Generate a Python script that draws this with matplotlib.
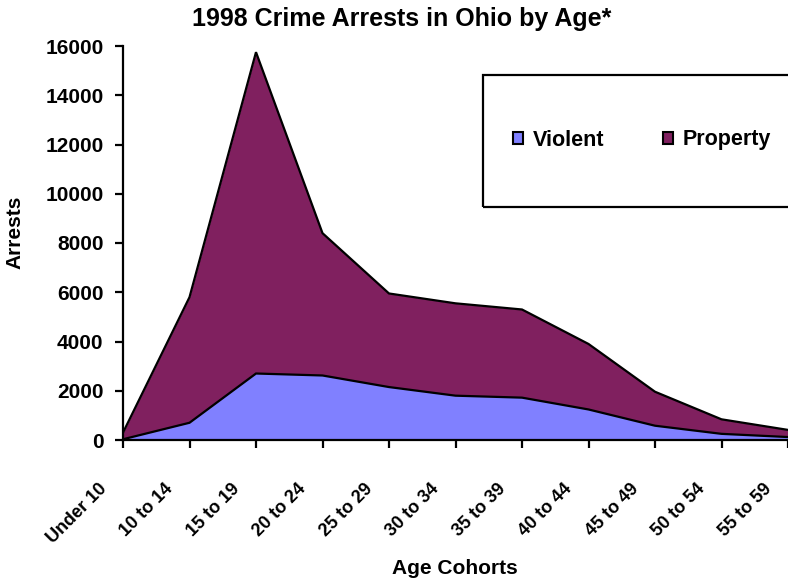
import matplotlib
matplotlib.use("Agg")
import matplotlib.pyplot as plt
import matplotlib.transforms as mtransforms
from matplotlib.patches import Rectangle, Patch
import numpy as np

plt.rcParams['font.family'] = ['Liberation Sans', 'DejaVu Sans']
plt.rcParams['font.weight'] = 'bold'

categories = ["Under 10", "10 to 14", "15 to 19", "20 to 24", "25 to 29", "30 to 34",
              "35 to 39", "40 to 44", "45 to 49", "50 to 54", "55 to 59"]
violent = [30, 700, 2700, 2620, 2150, 1800, 1720, 1240, 580, 250, 120]
property_ = [270, 5100, 13050, 5780, 3800, 3750, 3580, 2660, 1380, 590, 290]
yticks = [0, 2000, 4000, 6000, 8000, 10000, 12000, 14000, 16000]

W, H = 788, 582
fig = plt.figure(figsize=(W / 100, H / 100), dpi=100)
ax = fig.add_axes([123 / W, (H - 440) / H, 1 - 123 / W, (440 - 46) / H])

x = np.arange(len(categories))
v = np.array(violent)
total = v + np.array(property_)
c_violent = '#8080FF'
c_property = '#80205F'
ax.fill_between(x, 0, v, color=c_violent, lw=0)
ax.fill_between(x, v, total, color=c_property, lw=0)
ax.plot(x, v, color='black', lw=1.6, solid_joinstyle='miter')
ax.plot(x, total, color='black', lw=1.6, solid_joinstyle='miter')

ax.set_xlim(0, len(categories) - 1)
ax.set_ylim(0, 16000)
ax.set_yticks(yticks)
ax.set_yticklabels([str(t) for t in yticks], fontsize=15, fontweight='bold')
ax.set_xticks(x)
ax.set_xticklabels([])
offset = mtransforms.ScaledTranslation(-19 / 100, -46 / 100, fig.dpi_scale_trans)
trans = ax.get_xaxis_transform() + offset
for i, lab in enumerate(categories):
    ax.text(x[i], 0, lab, transform=trans, rotation=45, ha='right', va='center',
            rotation_mode='anchor', fontsize=13, fontweight='bold', clip_on=False)

for s in ['top', 'right']:
    ax.spines[s].set_visible(False)
for s in ['left', 'bottom']:
    ax.spines[s].set_linewidth(1.6)
    ax.spines[s].set_zorder(5)
ax.tick_params(axis='both', direction='out', length=6, width=1.6, color='black')
ax.tick_params(axis='y', pad=8)

fig.text(402 / W, 1 - 19 / H, "1998 Crime Arrests in Ohio by Age*", ha='center', va='center',
         fontsize=18, fontweight='bold')
fig.text(15 / W, 1 - 232 / H, "Arrests", ha='center', va='center', rotation=90,
         fontsize=15, fontweight='bold')
fig.text(455 / W, 1 - 568 / H, "Age Cohorts", ha='center', va='center',
         fontsize=15, fontweight='bold')

# legend box
fig.patches.append(Rectangle((483 / W, 1 - 207 / H), (320) / W, (207 - 75) / H,
                             transform=fig.transFigure, fill=False, edgecolor='black',
                             lw=1.6, zorder=10))
handles = [Patch(facecolor=c_violent, edgecolor='black', lw=1.5, label='Violent'),
           Patch(facecolor=c_property, edgecolor='black', lw=1.5, label='Property')]
fig.legend(handles=handles, loc='center', bbox_to_anchor=(642 / W, 1 - 140 / H), ncol=2,
           frameon=False, prop={'size': 15.5, 'weight': 'bold'}, handlelength=0.45,
           handleheight=0.45, handletextpad=0.45, columnspacing=2.75)

fig.savefig("out.png", dpi=100)
